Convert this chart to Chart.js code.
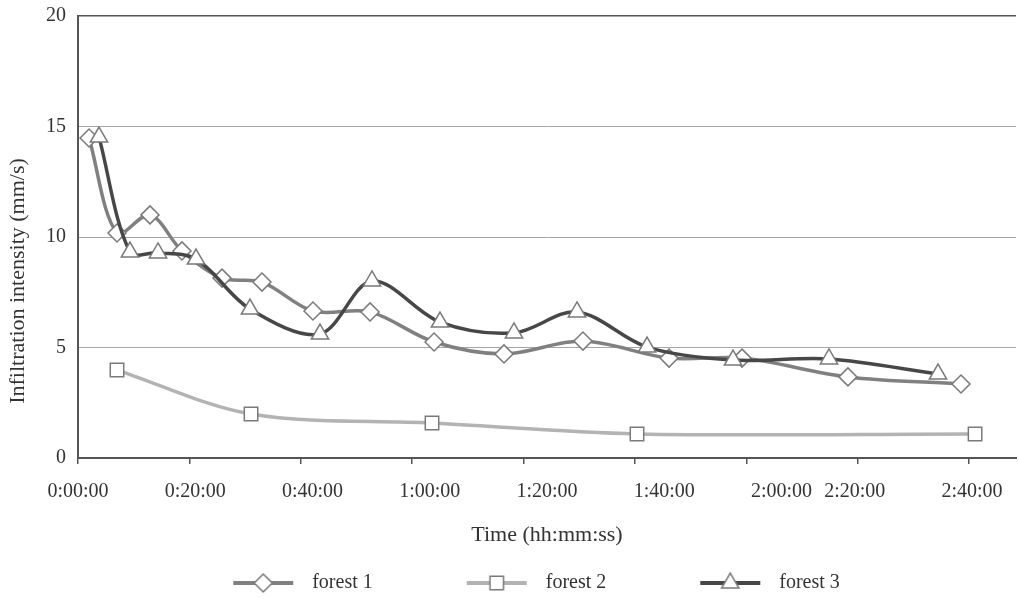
<!DOCTYPE html>
<html>
<head>
<meta charset="utf-8">
<script src="https://cdn.jsdelivr.net/npm/chart.js@4.4.1/dist/chart.umd.min.js"></script>
<style>
  html, body { margin: 0; padding: 0; background: #fff; }
</style>
</head>
<body>
<canvas id="infiltrationChart" width="1019" height="599"></canvas>
<script>
// time since start (h:mm:ss) and infiltration intensity (mm/s)
var forest1Time  = ["0:01:53", "0:06:39", "0:12:17", "0:17:44", "0:24:34", "0:31:23", "0:40:05", "0:49:49",
                    "1:00:44", "1:12:40", "1:26:08", "1:40:49", "1:53:16", "2:11:20", "2:30:37"];
var forest1Value = [14.48, 10.18, 11.0, 9.37, 8.14, 7.96, 6.65, 6.61, 5.25, 4.71, 5.29, 4.52, 4.52, 3.67, 3.35];

var forest2Time  = ["0:06:39", "0:29:31", "1:00:23", "1:35:21", "2:33:01"];
var forest2Value = [3.98, 1.99, 1.58, 1.09, 1.09];

var forest3Time  = ["0:03:35", "0:08:52", "0:13:39", "0:20:08", "0:29:20", "0:41:17", "0:50:09",
                    "1:01:45", "1:14:22", "1:25:07", "1:37:04", "1:51:44", "2:08:06", "2:26:42"];
var forest3Value = [14.52, 9.32, 9.28, 9.0, 6.74, 5.61, 8.01, 6.15, 5.66, 6.61, 5.02, 4.43, 4.48, 3.80];

var xTickLabels  = ["0:00:00", "0:20:00", "0:40:00", "1:00:00", "1:20:00", "1:40:00", "2:00:00", "2:20:00", "2:40:00"];
var xTickMinutes = [0, 20, 40, 60, 80, 100, 120, 132.5, 152.5];
var xMarkMinutes = [0, 19, 38, 57, 76, 95, 114, 133, 152];

var serif = "'Liberation Serif', 'DejaVu Serif', serif";
var textColor = "#333333";

function toMinutes(t) {
    var p = t.split(":");
    return Number(p[0]) * 60 + Number(p[1]) + Number(p[2]) / 60;
}

function toPoints(times, values) {
    return times.map(function (t, i) {
        return { x: toMinutes(t), y: values[i] };
    });
}

// legend symbol: a short line with the marker on it
function legendSymbol(color, style, radius) {
    var c = document.createElement("canvas");
    c.width = 126;
    c.height = 26;
    var g = c.getContext("2d");
    g.strokeStyle = color;
    g.lineWidth = 4;
    g.beginPath();
    g.moveTo(57, 13);
    g.lineTo(117, 13);
    g.stroke();
    g.fillStyle = "#ffffff";
    g.strokeStyle = "#7a7a7a";
    g.lineWidth = 1.5;
    g.beginPath();
    Chart.helpers.drawPoint(g, { pointStyle: style, radius: radius, rotation: 0, borderWidth: 1.5 }, 87, 13);
    return c;
}

var datasets = [{
    label: "forest 1",
    data: toPoints(forest1Time, forest1Value),
    borderColor: "#808080",
    pointStyle: "rectRot",
    pointRadius: 9,
    order: 1
}, {
    label: "forest 2",
    data: toPoints(forest2Time, forest2Value),
    borderColor: "#b3b3b3",
    pointStyle: "rect",
    pointRadius: 9.5,
    order: 2
}, {
    label: "forest 3",
    data: toPoints(forest3Time, forest3Value),
    borderColor: "#474747",
    pointStyle: "triangle",
    pointRadius: 10,
    order: 0
}];

datasets.forEach(function (d) {
    d.borderWidth = 3.5;
    d.tension = 0.33;
    d.fill = false;
    d.clip = false;
    d.pointBackgroundColor = "#ffffff";
    d.pointBorderColor = "#7a7a7a";
    d.pointBorderWidth = 1.5;
    d.pointHoverRadius = d.pointRadius;
});

var ctx = document.getElementById("infiltrationChart").getContext("2d");
new Chart(ctx, {
    type: "line",
    data: { datasets: datasets },
    options: {
        responsive: false,
        animation: false,
        layout: { autoPadding: false, padding: { top: 16, right: 3, left: 0, bottom: -4 } },
        plugins: {
            tooltip: { enabled: false },
            legend: {
                position: "bottom",
                labels: {
                    usePointStyle: true,
                    pointStyleWidth: 126,
                    padding: 37,
                    color: textColor,
                    font: { family: serif, size: 20 },
                    generateLabels: function (chart) {
                        return chart.data.datasets.map(function (d, i) {
                            return {
                                text: d.label,
                                datasetIndex: i,
                                pointStyle: legendSymbol(d.borderColor, d.pointStyle, d.pointRadius),
                                fillStyle: "#ffffff",
                                strokeStyle: d.borderColor,
                                lineWidth: 0,
                                fontColor: textColor,
                                hidden: false
                            };
                        });
                    }
                }
            }
        },
        scales: {
            x: {
                type: "linear",
                position: "bottom",
                min: 0,
                max: 160,
                weight: 1,
                afterBuildTicks: function (scale) {
                    scale.ticks = xTickMinutes.map(function (v) { return { value: v }; });
                },
                afterFit: function (scale) {
                    scale.height = 78;
                    scale.paddingLeft = 0;
                    scale.paddingRight = 0;
                },
                ticks: {
                    autoSkip: false,
                    maxRotation: 0,
                    padding: 22,
                    color: textColor,
                    font: { family: serif, size: 20 },
                    callback: function (value, index) { return xTickLabels[index]; }
                },
                grid: { display: false, drawTicks: false },
                border: { display: true, color: "#555555", width: 2 },
                title: {
                    display: true,
                    text: "Time (hh:mm:ss)",
                    color: textColor,
                    font: { family: serif, size: 22 },
                    padding: { top: 0, bottom: -12 }
                }
            },
            xMarks: {
                type: "linear",
                position: "bottom",
                min: 0,
                max: 160,
                weight: 0,
                afterBuildTicks: function (scale) {
                    scale.ticks = xMarkMinutes.map(function (v) { return { value: v }; });
                },
                afterFit: function (scale) {
                    scale.height = 0;
                    scale.paddingLeft = 0;
                    scale.paddingRight = 0;
                },
                ticks: { display: false },
                grid: { drawOnChartArea: false, drawTicks: true, tickLength: 6, color: "#555555", lineWidth: 1.5 },
                border: { display: false }
            },
            y: {
                min: 0,
                max: 20,
                afterFit: function (scale) {
                    scale.width = 78;
                    scale.paddingTop = 0;
                    scale.paddingBottom = 0;
                },
                ticks: {
                    stepSize: 5,
                    padding: 12,
                    color: textColor,
                    font: { family: serif, size: 20 }
                },
                grid: {
                    drawTicks: false,
                    color: function (c) {
                        if (c.tick.value === 20) return "#555555";
                        if (c.tick.value === 0) return "rgba(0,0,0,0)";
                        return "#a6a6a6";
                    },
                    lineWidth: function (c) { return c.tick.value === 20 ? 1.5 : 1; }
                },
                border: { display: true, color: "#555555", width: 2 },
                title: {
                    display: true,
                    text: "Infiltration intensity (mm/s)\u2003\u2003\u2003\u2003",
                    color: textColor,
                    font: { family: serif, size: 22 },
                    padding: { top: 5, bottom: 0 }
                }
            }
        }
    }
});
</script>
</body>
</html>
